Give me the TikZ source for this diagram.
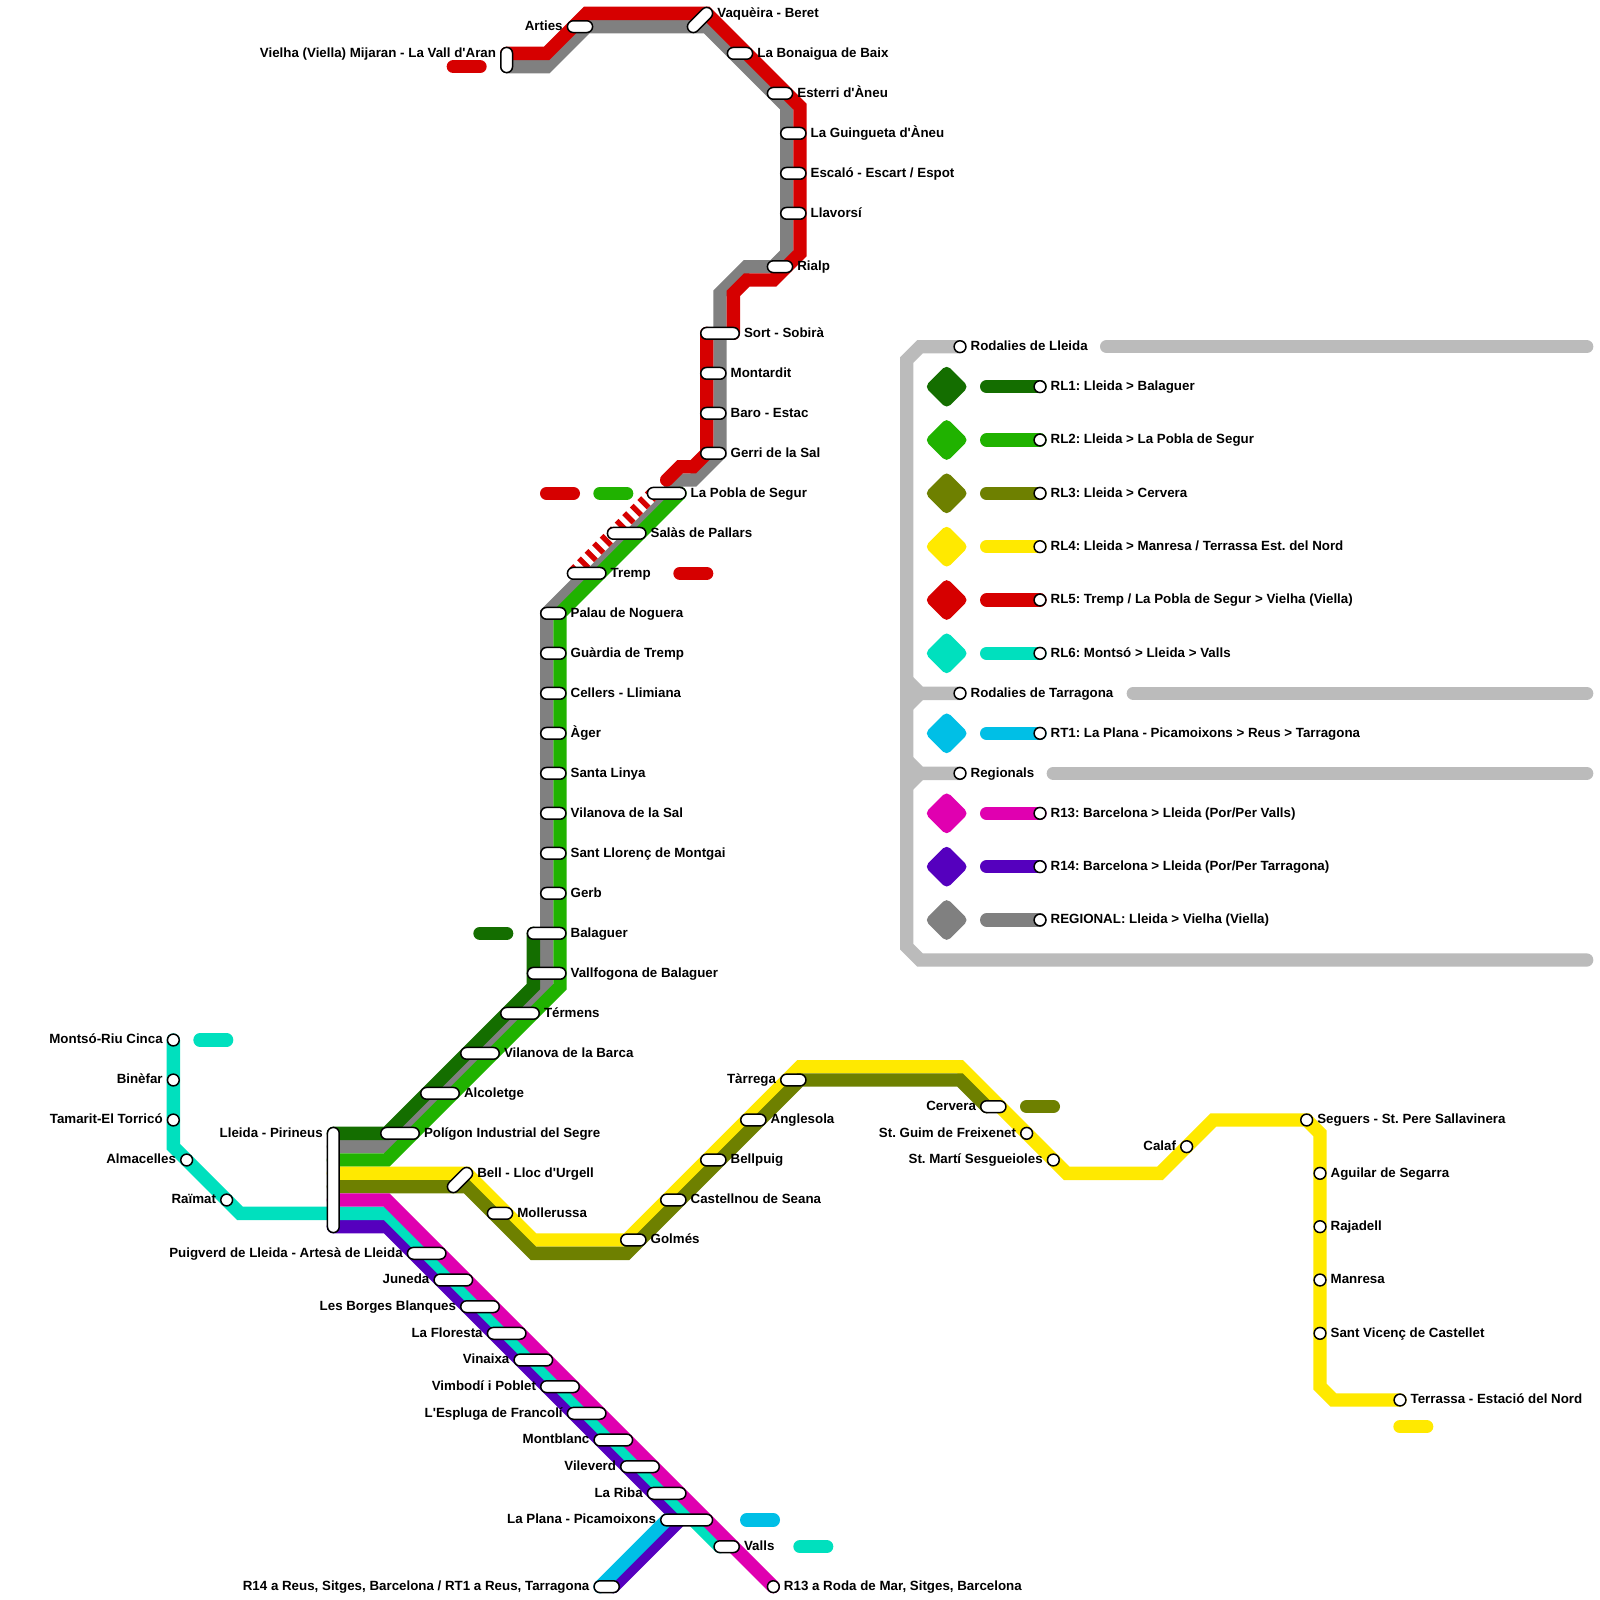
\documentclass[tikz,border=0pt]{standalone}
\usepackage{fontspec}
\usepackage{tikz}
\usetikzlibrary{positioning}
\newfontfamily\mapfont{Liberation Sans}
\definecolor{rlonec}{HTML}{146E00}
\definecolor{rltwoc}{HTML}{20B200}
\definecolor{rlthreec}{HTML}{6E8000}
\definecolor{rlfourc}{HTML}{FFE900}
\definecolor{rlfivec}{HTML}{D60000}
\definecolor{rlsixc}{HTML}{00E0BE}
\definecolor{rtonec}{HTML}{00BFE6}
\definecolor{rthirteenc}{HTML}{E000B0}
\definecolor{rfourteenc}{HTML}{5500BE}
\definecolor{regc}{HTML}{808080}
\definecolor{legc}{HTML}{BBBBBB}
\frenchspacing
\begin{document}
\begin{tikzpicture}[x=13.3333pt,y=-13.3333pt,
    lin/.style={line width=13.3333pt,line cap=round,miter limit=10},
    stop/.style={draw=black,fill=white,line width=1.5pt,rounded corners=5.9pt,minimum height=11.8pt,inner sep=0pt},
    sttwo/.style={stop,minimum width=25.2pt},
    stthree/.style={stop,minimum width=38.5pt},
    stfour/.style={stop,minimum width=51.8pt},
    stdiag/.style={stop,minimum width=30.7pt,rotate=45},
    halt/.style={circle,draw=black,fill=white,line width=1.5pt,minimum size=11.8pt,inner sep=0pt},
    lab/.style={font=\mapfont\bfseries\fontsize{13.33}{15}\selectfont,inner sep=0pt,outer sep=0pt,text height=9.3pt,text depth=1.6pt},
    gem/.style={rectangle,rotate=45,rounded corners=5pt,minimum size=31pt,inner sep=0pt}]
  \fill[white] (0,0) rectangle (120,120);
  \useasboundingbox (0,0) rectangle (120,120);
  % line ends
  \coordinate (vielhar) at (38,4);
  \coordinate (vielhag) at (38,5);
  \coordinate (poblar) at (50,36);
  \coordinate (poblad) at (49,37);
  \coordinate (trempd) at (43,43);
  \coordinate (balaguerd) at (40,70);
  \coordinate (palaug) at (42,46);
  \coordinate (poblag) at (51,37);
  \coordinate (sorte) at (55,25);
  \coordinate (sortw) at (53,25);
  \coordinate (lleidaa) at (25,85);
  \coordinate (lleidab) at (25,86);
  \coordinate (lleidac) at (25,87);
  \coordinate (lleidad) at (25,88);
  \coordinate (lleidae) at (25,89);
  \coordinate (lleidaf) at (25,90);
  \coordinate (lleidah) at (25,92);
  \coordinate (cerverao) at (74,83);
  \coordinate (planab) at (50,114);
  \coordinate (reusb) at (45,119);
  \coordinate (reusp) at (46,119);
  \coordinate (montsoc) at (13,78);
  \coordinate (vallsc) at (54,116);
  \coordinate (rodac) at (58,119);
  \coordinate (terrassac) at (105,105);
  % legend frame
  \coordinate (hlleida) at (72,26);
  \coordinate (htarr) at (72,52);
  \coordinate (hreg) at (72,58);
  \coordinate (framee) at (119,72);
  \draw[lin,legc] (hlleida) -- (69,26) -- (68,27) -- (68,71) -- (69,72) -- (framee);
  \draw[lin,legc] (68,51) -- (69,52) -- (htarr);
  \draw[lin,legc] (68,53) -- (69,52);
  \draw[lin,legc] (68,57) -- (69,58) -- (hreg);
  \draw[lin,legc] (68,59) -- (69,58);
  \draw[lin,legc] (83,26) -- (119,26);
  \draw[lin,legc] (85,52) -- (119,52);
  \draw[lin,legc] (79,58) -- (119,58);
  % lines
  \draw[lin,regc] (vielhag) -- (41,5) -- (44,2) -- (53,2) -- (59,8) -- (59,19) -- (58,20) -- (56,20) -- (54,22) -- (54,34) -- (52,36) -- (51,36) -- (41,46) -- (41,74) -- (29,86) -- (lleidab);
  \draw[lin,rlonec] (balaguerd) -- (40,74) -- (29,85) -- (lleidaa);
  \draw[lin,rltwoc] (poblag) -- (palaug) -- (42,74) -- (29,87) -- (lleidac);
  \draw[lin,white,line cap=butt] (poblad) -- (trempd);
  \draw[lin,rlfivec,line cap=butt,dash pattern=on 5.33pt off 5.33pt] (poblad) -- (trempd);
  \draw[lin,rlfivec] (vielhar) -- (41,4) -- (44,1) -- (53,1) -- (60,8) -- (60,19) -- (58,21) -- (56,21) -- (55,22) -- (sorte);
  \draw[lin,rlfivec] (sortw) -- (53,34) -- (52,35) -- (51,35) -- (poblar);
  \draw[lin,rlfourc] (lleidad) -- (35,88) -- (40,93) -- (47,93) -- (60,80) -- (72,80) -- (80,88) -- (87,88) -- (91,84) -- (98,84) -- (99,85) -- (99,104) -- (100,105) -- (terrassac);
  \draw[lin,rlthreec] (lleidae) -- (35,89) -- (40,94) -- (47,94) -- (60,81) -- (72,81) -- (cerverao);
  \draw[lin,rfourteenc] (lleidah) -- (29,92) -- (51,114) -- (reusp);
  \draw[lin,rlsixc] (montsoc) -- (13,86) -- (18,91) -- (29,91) -- (vallsc);
  \draw[lin,rthirteenc] (lleidaf) -- (29,90) -- (rodac);
  \draw[lin,rtonec] (planab) -- (reusb);
  % line tags
  \draw[lin,rlfivec] (34,5) -- (36,5);
  \draw[lin,rlfivec] (41,37) -- (43,37);
  \draw[lin,rltwoc] (45,37) -- (47,37);
  \draw[lin,rlfivec] (51,43) -- (53,43);
  \draw[lin,rlonec] (36,70) -- (38,70);
  \draw[lin,rlsixc] (15,78) -- (17,78);
  \draw[lin,rlthreec] (77,83) -- (79,83);
  \draw[lin,rtonec] (56,114) -- (58,114);
  \draw[lin,rlsixc] (60,116) -- (62,116);
  \draw[lin,rlfourc] (105,107) -- (107,107);
  % legend keys
  \node[gem,fill=rlonec] (keyrla) at (71,29) {};
  \node[gem,fill=rltwoc] (keyrlb) at (71,33) {};
  \node[gem,fill=rlthreec] (keyrlc) at (71,37) {};
  \node[gem,fill=rlfourc] (keyrld) at (71,41) {};
  \node[gem,fill=rlfivec] (keyrle) at (71,45) {};
  \node[gem,fill=rlsixc] (keyrlf) at (71,49) {};
  \node[gem,fill=rtonec] (keyrt) at (71,55) {};
  \node[gem,fill=rthirteenc] (keyrm) at (71,61) {};
  \node[gem,fill=rfourteenc] (keyrn) at (71,65) {};
  \node[gem,fill=regc] (keyreg) at (71,69) {};
  \coordinate (rlaa) at (78,29);
  \coordinate (rlbb) at (78,33);
  \coordinate (rlcc) at (78,37);
  \coordinate (rldd) at (78,41);
  \coordinate (rlee) at (78,45);
  \coordinate (rlff) at (78,49);
  \coordinate (rtaa) at (78,55);
  \coordinate (rmaa) at (78,61);
  \coordinate (rnaa) at (78,65);
  \coordinate (rraa) at (78,69);
  \coordinate (bara) at (74,29);
  \coordinate (barb) at (74,33);
  \coordinate (barc) at (74,37);
  \coordinate (bard) at (74,41);
  \coordinate (bare) at (74,45);
  \coordinate (barf) at (74,49);
  \coordinate (bart) at (74,55);
  \coordinate (barm) at (74,61);
  \coordinate (barn) at (74,65);
  \coordinate (barr) at (74,69);
  \draw[lin,rlonec] (bara) -- (rlaa);
  \draw[lin,rltwoc] (barb) -- (rlbb);
  \draw[lin,rlthreec] (barc) -- (rlcc);
  \draw[lin,rlfourc] (bard) -- (rldd);
  \draw[lin,rlfivec] (bare) -- (rlee);
  \draw[lin,rlsixc] (barf) -- (rlff);
  \draw[lin,rtonec] (bart) -- (rtaa);
  \draw[lin,rthirteenc] (barm) -- (rmaa);
  \draw[lin,rfourteenc] (barn) -- (rnaa);
  \draw[lin,regc] (barr) -- (rraa);
  \node[halt] (rla) at (rlaa) {};
  \node[halt] (rlb) at (rlbb) {};
  \node[halt] (rlc) at (rlcc) {};
  \node[halt] (rld) at (rldd) {};
  \node[halt] (rle) at (rlee) {};
  \node[halt] (rlf) at (rlff) {};
  \node[halt] (rta) at (rtaa) {};
  \node[halt] (rma) at (rmaa) {};
  \node[halt] (rna) at (rnaa) {};
  \node[halt] (rra) at (rraa) {};
  \node[lab,right=4pt of rla] (rlat) {RL1: Lleida > Balaguer};
  \node[lab,right=4pt of rlb] (rlbt) {RL2: Lleida > La Pobla de Segur};
  \node[lab,right=4pt of rlc] (rlct) {RL3: Lleida > Cervera};
  \node[lab,right=4pt of rld] (rldt) {RL4: Lleida > Manresa / Terrassa Est. del Nord};
  \node[lab,right=4pt of rle] (rlet) {RL5: Tremp / La Pobla de Segur > Vielha (Viella)};
  \node[lab,right=4pt of rlf] (rlft) {RL6: Montsó > Lleida > Valls};
  \node[lab,right=4pt of rta] (rtat) {RT1: La Plana - Picamoixons > Reus > Tarragona};
  \node[lab,right=4pt of rma] (rmat) {R13: Barcelona > Lleida (Por/Per Valls)};
  \node[lab,right=4pt of rna] (rnat) {R14: Barcelona > Lleida (Por/Per Tarragona)};
  \node[lab,right=4pt of rra] (rrat) {REGIONAL: Lleida > Vielha (Viella)};
  \node[halt] (hla) at (hlleida) {};
  \node[lab,right=4pt of hla] (hlat) {Rodalies de Lleida};
  \node[halt] (hta) at (htarr) {};
  \node[lab,right=4pt of hta] (htat) {Rodalies de Tarragona};
  \node[halt] (hra) at (hreg) {};
  \node[lab,right=4pt of hra] (hrat) {Regionals};
  % stations, north
  \node[stop,minimum width=11.8pt,minimum height=25.2pt] (vielha) at (38,4.5) {};
  \coordinate (vielhap) at (37.5,4);
  \node[lab,left=4pt of vielhap] (vielhat) {Vielha (Viella) Mijaran - La Vall d'Aran};
  \node[sttwo] (arties) at (43.5,2) {};
  \node[lab,left=4pt of arties] (artiest) {Arties};
  \node[stdiag] (vaqueira) at (52.5,1.5) {};
  \coordinate (vaqueirap) at (53.5,1);
  \node[lab,right=4pt of vaqueirap] (vaqueirat) {Vaquèira - Beret};
  \node[sttwo] (bonaigua) at (55.5,4) {};
  \node[lab,right=4pt of bonaigua] (bonaiguat) {La Bonaigua de Baix};
  \node[sttwo] (esterri) at (58.5,7) {};
  \node[lab,right=4pt of esterri] (esterrit) {Esterri d'Àneu};
  \node[sttwo] (guingueta) at (59.5,10) {};
  \node[lab,right=4pt of guingueta] (guinguetat) {La Guingueta d'Àneu};
  \node[sttwo] (escalo) at (59.5,13) {};
  \node[lab,right=4pt of escalo] (escalot) {Escaló - Escart / Espot};
  \node[sttwo] (llavorsi) at (59.5,16) {};
  \node[lab,right=4pt of llavorsi] (llavorsit) {Llavorsí};
  \node[sttwo] (rialp) at (58.5,20) {};
  \node[lab,right=4pt of rialp] (rialpt) {Rialp};
  \node[stthree] (sort) at (54,25) {};
  \node[lab,right=4pt of sort] (sortt) {Sort - Sobirà};
  \node[sttwo] (montardit) at (53.5,28) {};
  \node[lab,right=4pt of montardit] (montarditt) {Montardit};
  \node[sttwo] (baro) at (53.5,31) {};
  \node[lab,right=4pt of baro] (barot) {Baro - Estac};
  \node[sttwo] (gerri) at (53.5,34) {};
  \node[lab,right=4pt of gerri] (gerrit) {Gerri de la Sal};
  \node[stthree] (pobla) at (50,37) {};
  \node[lab,right=4pt of pobla] (poblat) {La Pobla de Segur};
  \node[stthree] (salas) at (47,40) {};
  \node[lab,right=4pt of salas] (salast) {Salàs de Pallars};
  \node[stthree] (tremp) at (44,43) {};
  \node[lab,right=4pt of tremp] (trempt) {Tremp};
  \node[sttwo] (palau) at (41.5,46) {};
  \node[lab,right=4pt of palau] (palaut) {Palau de Noguera};
  \node[sttwo] (guardia) at (41.5,49) {};
  \node[lab,right=4pt of guardia] (guardiat) {Guàrdia de Tremp};
  \node[sttwo] (cellers) at (41.5,52) {};
  \node[lab,right=4pt of cellers] (cellerst) {Cellers - Llimiana};
  \node[sttwo] (ager) at (41.5,55) {};
  \node[lab,right=4pt of ager] (agert) {Àger};
  \node[sttwo] (linya) at (41.5,58) {};
  \node[lab,right=4pt of linya] (linyat) {Santa Linya};
  \node[sttwo] (vilasal) at (41.5,61) {};
  \node[lab,right=4pt of vilasal] (vilasalt) {Vilanova de la Sal};
  \node[sttwo] (llorenc) at (41.5,64) {};
  \node[lab,right=4pt of llorenc] (llorenct) {Sant Llorenç de Montgai};
  \node[sttwo] (gerb) at (41.5,67) {};
  \node[lab,right=4pt of gerb] (gerbt) {Gerb};
  \node[stthree] (balaguer) at (41,70) {};
  \node[lab,right=4pt of balaguer] (balaguert) {Balaguer};
  \node[stthree] (vallfogona) at (41,73) {};
  \node[lab,right=4pt of vallfogona] (vallfogonat) {Vallfogona de Balaguer};
  \node[stthree] (termens) at (39,76) {};
  \node[lab,right=4pt of termens] (termenst) {Térmens};
  \node[stthree] (vilabarca) at (36,79) {};
  \node[lab,right=4pt of vilabarca] (vilabarcat) {Vilanova de la Barca};
  \node[stthree] (alcoletge) at (33,82) {};
  \node[lab,right=4pt of alcoletge] (alcoletget) {Alcoletge};
  \node[stthree] (poligon) at (30,85) {};
  \node[lab,right=4pt of poligon] (poligont) {Polígon Industrial del Segre};
  % Lleida and the west
  \node[stop,minimum width=11.8pt,minimum height=105.2pt] (lleida) at (25,88.5) {};
  \coordinate (lleidap) at (24.5,85);
  \node[lab,left=4pt of lleidap] (lleidat) {Lleida - Pirineus};
  \node[halt] (montso) at (montsoc) {};
  \node[lab,left=4pt of montso] (montsot) {Montsó-Riu Cinca};
  \node[halt] (binefar) at (13,81) {};
  \node[lab,left=4pt of binefar] (binefart) {Binèfar};
  \node[halt] (tamarit) at (13,84) {};
  \node[lab,left=4pt of tamarit] (tamaritt) {Tamarit-El Torricó};
  \node[halt] (almacelles) at (14,87) {};
  \node[lab,left=4pt of almacelles] (almacellest) {Almacelles};
  \node[halt] (raimat) at (17,90) {};
  \node[lab,left=4pt of raimat] (raimatt) {Raïmat};
  % stations, east
  \node[stdiag] (bell) at (34.5,88.5) {};
  \coordinate (bellp) at (35.5,88);
  \node[lab,right=4pt of bellp] (bellt) {Bell - Lloc d'Urgell};
  \node[sttwo] (mollerussa) at (37.5,91) {};
  \node[lab,right=4pt of mollerussa] (mollerussat) {Mollerussa};
  \node[sttwo] (golmes) at (47.5,93) {};
  \node[lab,right=4pt of golmes] (golmest) {Golmés};
  \node[sttwo] (castellnou) at (50.5,90) {};
  \node[lab,right=4pt of castellnou] (castellnout) {Castellnou de Seana};
  \node[sttwo] (bellpuig) at (53.5,87) {};
  \node[lab,right=4pt of bellpuig] (bellpuigt) {Bellpuig};
  \node[sttwo] (anglesola) at (56.5,84) {};
  \node[lab,right=4pt of anglesola] (anglesolat) {Anglesola};
  \node[sttwo] (tarrega) at (59.5,81) {};
  \node[lab,left=4pt of tarrega] (tarregat) {Tàrrega};
  \node[sttwo] (cervera) at (74.5,83) {};
  \node[lab,left=4pt of cervera] (cerverat) {Cervera};
  \node[halt] (guim) at (77,85) {};
  \node[lab,left=4pt of guim] (guimt) {St. Guim de Freixenet};
  \node[halt] (marti) at (79,87) {};
  \node[lab,left=4pt of marti] (martit) {St. Martí Sesgueioles};
  \node[halt] (calaf) at (89,86) {};
  \node[lab,left=4pt of calaf] (calaft) {Calaf};
  \node[halt] (seguers) at (98,84) {};
  \node[lab,right=4pt of seguers] (seguerst) {Seguers - St. Pere Sallavinera};
  \node[halt] (aguilar) at (99,88) {};
  \node[lab,right=4pt of aguilar] (aguilart) {Aguilar de Segarra};
  \node[halt] (rajadell) at (99,92) {};
  \node[lab,right=4pt of rajadell] (rajadellt) {Rajadell};
  \node[halt] (manresa) at (99,96) {};
  \node[lab,right=4pt of manresa] (manresat) {Manresa};
  \node[halt] (vicenc) at (99,100) {};
  \node[lab,right=4pt of vicenc] (vicenct) {Sant Vicenç de Castellet};
  \node[halt] (terrassa) at (terrassac) {};
  \node[lab,right=4pt of terrassa] (terrassat) {Terrassa - Estació del Nord};
  % stations, south
  \node[stthree] (puigverd) at (32,94) {};
  \node[lab,left=4pt of puigverd] (puigverdt) {Puigverd de Lleida - Artesà de Lleida};
  \node[stthree] (juneda) at (34,96) {};
  \node[lab,left=4pt of juneda] (junedat) {Juneda};
  \node[stthree] (borges) at (36,98) {};
  \node[lab,left=4pt of borges] (borgest) {Les Borges Blanques};
  \node[stthree] (floresta) at (38,100) {};
  \node[lab,left=4pt of floresta] (florestat) {La Floresta};
  \node[stthree] (vinaixa) at (40,102) {};
  \node[lab,left=4pt of vinaixa] (vinaixat) {Vinaixa};
  \node[stthree] (vimbodi) at (42,104) {};
  \node[lab,left=4pt of vimbodi] (vimbodit) {Vimbodí i Poblet};
  \node[stthree] (espluga) at (44,106) {};
  \node[lab,left=4pt of espluga] (esplugat) {L'Espluga de Francolí};
  \node[stthree] (montblanc) at (46,108) {};
  \node[lab,left=4pt of montblanc] (montblanct) {Montblanc};
  \node[stthree] (vileverd) at (48,110) {};
  \node[lab,left=4pt of vileverd] (vileverdt) {Vileverd};
  \node[stthree] (riba) at (50,112) {};
  \node[lab,left=4pt of riba] (ribat) {La Riba};
  \node[stfour] (plana) at (51.5,114) {};
  \node[lab,left=4pt of plana] (planat) {La Plana - Picamoixons};
  \node[sttwo] (valls) at (54.5,116) {};
  \node[lab,right=4pt of valls] (vallst) {Valls};
  \node[sttwo] (reus) at (45.5,119) {};
  \node[lab,left=4pt of reus] (reust) {R14 a Reus, Sitges, Barcelona / RT1 a Reus, Tarragona};
  \node[halt] (roda) at (rodac) {};
  \node[lab,right=4pt of roda] (rodat) {R13 a Roda de Mar, Sitges, Barcelona};
\end{tikzpicture}
\end{document}
